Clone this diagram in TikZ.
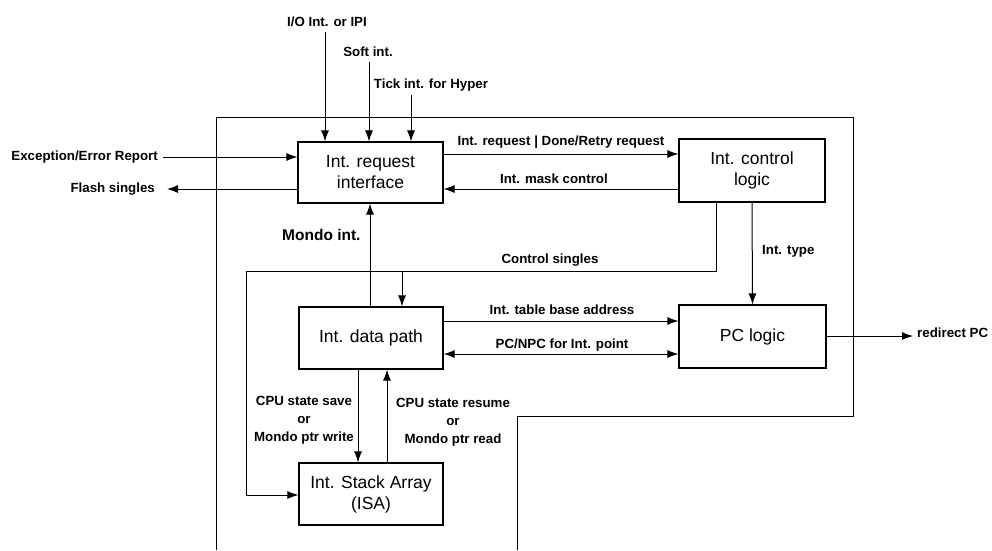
\documentclass[tikz,border=0pt]{standalone}
\usepackage{fontspec}
\setmainfont{Liberation Sans}
\usetikzlibrary{arrows.meta}
\begin{document}
\begin{tikzpicture}[x=1pt,y=-1pt,
  blk/.style={draw,line width=1.1pt,inner sep=0pt,align=center,font=\fontsize{17.5}{21}\selectfont},
  lbl/.style={inner sep=0pt,align=center,font=\fontsize{13.3}{18}\bfseries\selectfont},
  wire/.style={line width=1pt},
  arr/.style={wire,-{Latex[length=11pt,width=8pt]}},
  arrb/.style={wire,{Latex[length=11pt,width=8pt]}-{Latex[length=11pt,width=8pt]}}]
\useasboundingbox (0,0) rectangle (992,550);
% outer boundary
\draw[line width=1pt] (216,550) -- (216,117) -- (853,117) -- (853,416) -- (517,416) -- (517,550);
% blocks
\node[blk,minimum width=145pt,minimum height=61pt] (req) at (370.5,172.5) {Int. request\\interface};
\node[blk,minimum width=146pt,minimum height=63pt] (ctl) at (752,170.5) {Int. control\\logic};
\node[blk,minimum width=144pt,minimum height=62pt] (dp) at (371,338) {Int. data path};
\node[blk,minimum width=144pt,minimum height=62pt] (isa) at (371,494) {Int. Stack Array\\(ISA)};
\node[blk,minimum width=147pt,minimum height=63pt] (pc) at (752.5,336.5) {PC logic};
% top inputs
\node[lbl] (io) at (327,22) {I/O Int. or IPI};
\node[lbl] (soft) at (368,52) {Soft int.};
\node[lbl] (tick) at (431,85) {Tick int. for Hyper};
\coordinate (ioS) at (325,32);
\coordinate (softS) at (369,62);
\coordinate (tickS) at (411,95);
\draw[arr] (ioS) -- (req.north -| ioS);
\draw[arr] (softS) -- (req.north -| softS);
\draw[arr] (tickS) -- (req.north -| tickS);
% left side
\node[lbl,anchor=east] (exc) at (158,157) {Exception/Error Report};
\coordinate (excS) at (163,157);
\draw[arr] (excS) -- (req.west |- excS);
\node[lbl,anchor=east] (flash) at (155,189) {Flash singles};
\coordinate (flE) at (167,189);
\draw[arr] (req.west |- flE) -- (flE);
% request / control
\coordinate (rq) at (0,154);
\draw[arr] (req.east |- rq) -- (ctl.west |- rq) node[lbl,midway,above=5pt] (rqlbl) {Int. request | Done/Retry request};
\coordinate (mk) at (0,189);
\draw[arr] (ctl.west |- mk) -- (req.east |- mk) node[lbl,pos=0.53,above=5pt] (mklbl) {Int. mask control};
% control singles
\coordinate (cs1) at (716,271);
\coordinate (cs2) at (246,271);
\coordinate (cs3) at (246,495);
\coordinate (csb) at (402,271);
\draw[arr] (ctl.south -| cs1) -- (cs1) -- (cs2) -- (cs3) -- (isa.west |- cs3);
\draw[arr] (csb) -- (dp.north -| csb);
\node[lbl] (cslbl) at (550,260) {Control singles};
% int type
\draw[arr] (ctl.south) -- (pc.north);
\node[lbl,anchor=west] (itlbl) at (762,251) {Int. type};
% mondo
\coordinate (mo) at (370,0);
\draw[arr] (dp.north -| mo) -- (req.south -| mo);
\node[lbl,anchor=west,font=\fontsize{15.5}{18}\bfseries\selectfont] (molbl) at (282,235) {Mondo int.};
% data path to PC logic
\coordinate (tb) at (0,321);
\draw[arr] (dp.east |- tb) -- (pc.west |- tb);
\node[lbl] (tblbl) at (562,310) {Int. table base address};
\coordinate (np) at (0,354);
\draw[arrb] (dp.east |- np) -- (pc.west |- np);
\node[lbl] (nplbl) at (562,345) {PC/NPC for Int. point};
% redirect
\coordinate (rdE) at (913,336);
\draw[arr] (pc.east |- rdE) -- (rdE);
\node[lbl,anchor=west] (rdlbl) at (917,333) {redirect PC};
% data path <-> ISA
\coordinate (sv) at (358,0);
\coordinate (rs) at (387,0);
\draw[arr] (dp.south -| sv) -- (isa.north -| sv);
\draw[arr] (isa.north -| rs) -- (dp.south -| rs);
\node[lbl] (svlbl) at (304,420) {CPU state save\\or\\Mondo ptr write};
\node[lbl] (rslbl) at (453,422) {CPU state resume\\or\\Mondo ptr read};
\end{tikzpicture}
\end{document}
